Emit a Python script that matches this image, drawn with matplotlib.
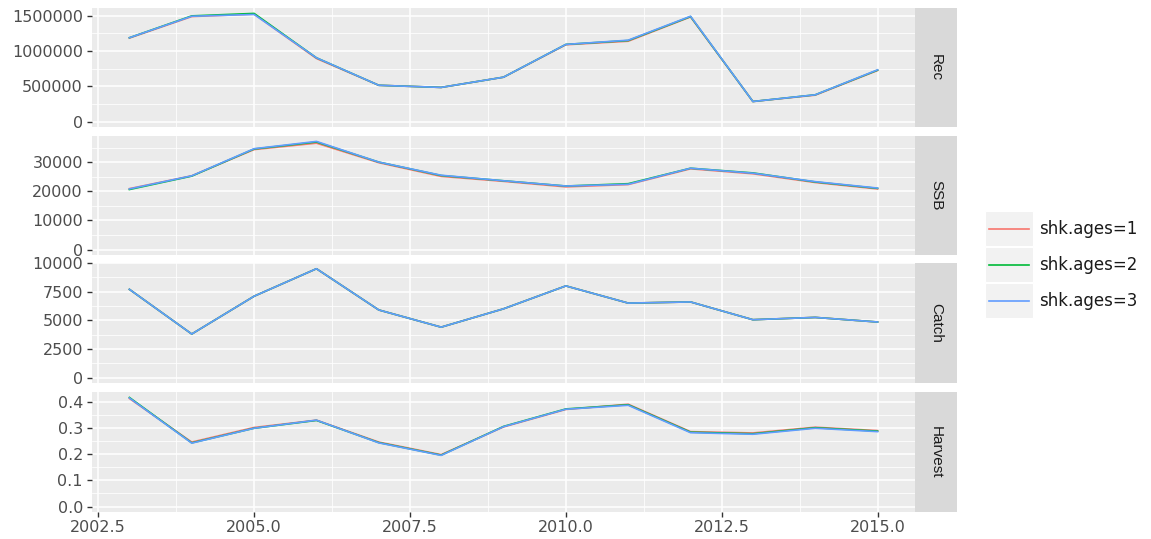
import matplotlib
matplotlib.use('Agg')
import matplotlib.pyplot as plt
import numpy as np
from matplotlib.patches import Rectangle
from matplotlib.lines import Line2D

plt.rcParams['font.family'] = ['DejaVu Sans']

years = [2003, 2004, 2005, 2006, 2007, 2008, 2009, 2010, 2011, 2012, 2013, 2014, 2015]
series = ['shk.ages=1', 'shk.ages=2', 'shk.ages=3']
colors = ['#F8766D', '#00BA38', '#619CFF']
facets = ['Rec', 'SSB', 'Catch', 'Harvest']

rec_1 = [1185000, 1490000, 1525000, 895000, 515000, 485000, 630000, 1090000, 1140000, 1485000, 285000, 375000, 725000]
rec_2 = [1190000, 1500000, 1535000, 905000, 515000, 485000, 630000, 1095000, 1150000, 1490000, 285000, 380000, 730000]
rec_3 = [1190000, 1495000, 1520000, 905000, 515000, 485000, 630000, 1095000, 1155000, 1495000, 285000, 380000, 735000]

ssb_1 = [20900, 25300, 34300, 36500, 29800, 25100, 23400, 21500, 22300, 27700, 26000, 23000, 20800]
ssb_2 = [20600, 25200, 34500, 36900, 30000, 25400, 23600, 21800, 22600, 27900, 26300, 23200, 21000]
ssb_3 = [20800, 25300, 34600, 37100, 30000, 25500, 23600, 21800, 22400, 27900, 26200, 23300, 21100]

catch_1 = [7700, 3800, 7100, 9500, 5900, 4400, 6000, 8000, 6500, 6600, 5050, 5250, 4850]
catch_2 = [7700, 3800, 7100, 9500, 5900, 4400, 6000, 8000, 6500, 6600, 5050, 5250, 4850]
catch_3 = [7700, 3800, 7100, 9500, 5900, 4400, 6000, 8000, 6500, 6600, 5050, 5250, 4850]

harv_1 = [0.414, 0.247, 0.303, 0.331, 0.247, 0.199, 0.305, 0.372, 0.392, 0.287, 0.282, 0.304, 0.291]
harv_2 = [0.418, 0.244, 0.300, 0.330, 0.245, 0.197, 0.307, 0.374, 0.390, 0.285, 0.279, 0.302, 0.289]
harv_3 = [0.416, 0.243, 0.300, 0.331, 0.244, 0.196, 0.306, 0.373, 0.388, 0.283, 0.277, 0.300, 0.287]

data = {
    'Rec': [rec_1, rec_2, rec_3],
    'SSB': [ssb_1, ssb_2, ssb_3],
    'Catch': [catch_1, catch_2, catch_3],
    'Harvest': [harv_1, harv_2, harv_3],
}
yticks = {
    'Rec': [0, 500000, 1000000, 1500000],
    'SSB': [0, 10000, 20000, 30000],
    'Catch': [0, 2500, 5000, 7500, 10000],
    'Harvest': [0.0, 0.1, 0.2, 0.3, 0.4],
}
ylabels = {
    'Rec': ['0', '500000', '1000000', '1500000'],
    'SSB': ['0', '10000', '20000', '30000'],
    'Catch': ['0', '2500', '5000', '7500', '10000'],
    'Harvest': ['0.0', '0.1', '0.2', '0.3', '0.4'],
}
ymax = {'Rec': 1535000, 'SSB': 37100, 'Catch': 9500, 'Harvest': 0.418}
xticks = [2002.5, 2005.0, 2007.5, 2010.0, 2012.5, 2015.0]

W, H = 1151, 539
fig = plt.figure(figsize=(W / 100, H / 100), dpi=100)

# panel pixel boxes (top, bottom)
panels = [(8, 127), (136, 255), (263, 383), (392, 512)]
left_px, right_px, strip_w = 92, 915, 42

for i, name in enumerate(facets):
    top, bot = panels[i]
    ax = fig.add_axes([left_px / W, 1 - bot / H, (right_px - left_px) / W, (bot - top) / H])
    ax.set_facecolor('#EBEBEB')
    for s in ax.spines.values():
        s.set_visible(False)
    for k in range(3):
        ax.plot(years, data[name][k], color=colors[k], lw=1.2, zorder=3 + k)
    x0, x1 = 2003 - 0.6, 2015 + 0.6
    ax.set_xlim(x0, x1)
    ym = ymax[name]
    ax.set_ylim(-0.05 * ym, 1.05 * ym)
    ax.set_xticks(xticks)
    ax.set_xticks([2003.75, 2006.25, 2008.75, 2011.25, 2013.75], minor=True)
    yt = yticks[name]
    ax.set_yticks(yt)
    step = yt[1] - yt[0]
    ax.set_yticks([v + step / 2 for v in yt if v + step / 2 < 1.05 * ym], minor=True)
    ax.set_yticklabels(ylabels[name])
    ax.grid(which='major', color='white', lw=1.1, zorder=1)
    ax.grid(which='minor', color='white', lw=0.55, zorder=1)
    ax.set_axisbelow(True)
    ax.tick_params(axis='both', which='major', length=3.5, width=1, color='#333333',
                   labelsize=11.5, labelcolor='#4D4D4D', pad=3)
    ax.tick_params(axis='both', which='minor', length=0)
    if i < 3:
        ax.tick_params(axis='x', which='major', labelbottom=False, length=0)
    else:
        ax.set_xticklabels(['2002.5', '2005.0', '2007.5', '2010.0', '2012.5', '2015.0'])
        ax.tick_params(axis='x', pad=2)

    # strip on the right
    sax = fig.add_axes([right_px / W, 1 - bot / H, strip_w / W, (bot - top) / H])
    sax.set_facecolor('#D9D9D9')
    for s in sax.spines.values():
        s.set_visible(False)
    sax.set_xticks([])
    sax.set_yticks([])
    sax.text(0.5, 0.5, name, rotation=-90, ha='center', va='center',
             fontsize=11, color='#1A1A1A', transform=sax.transAxes,
             family=['Liberation Sans', 'DejaVu Sans'])

# legend
key_x0, key_x1 = 985, 1033
key_tops = [211, 247, 283]
for k in range(3):
    t = key_tops[k]
    fig.add_artist(Rectangle((key_x0 / W, 1 - (t + 35) / H), (key_x1 - key_x0) / W, 35 / H,
                             transform=fig.transFigure, facecolor='#F2F2F2', edgecolor='white', lw=0.8))
    yc = 1 - (t + 17.5) / H
    fig.add_artist(Line2D([989 / W, 1029 / W], [yc, yc], transform=fig.transFigure,
                          color=colors[k], lw=1.2))
    fig.text(1039 / W, yc, series[k], ha='left', va='center', fontsize=12, color='#1A1A1A')

fig.savefig('out.png', dpi=100, facecolor='white')
